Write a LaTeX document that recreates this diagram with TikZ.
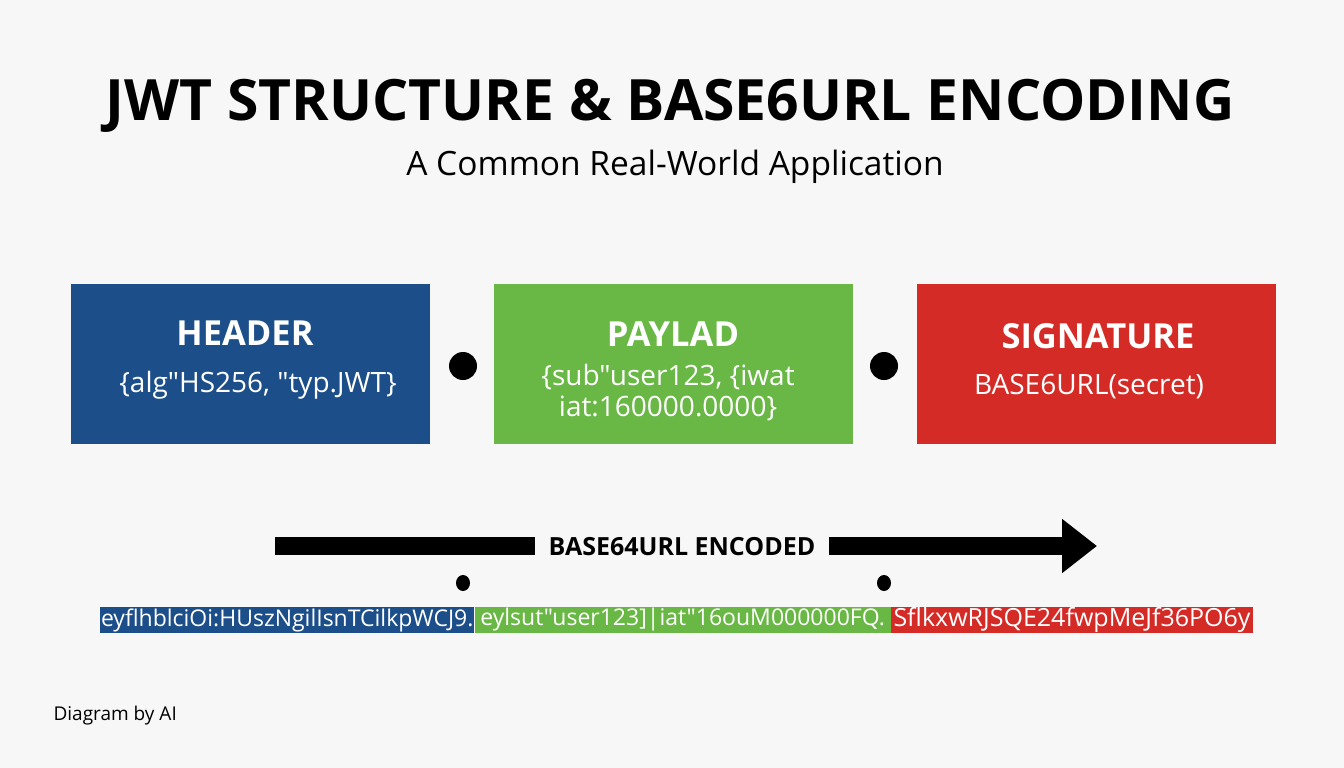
\documentclass[tikz,border=0pt]{standalone}
\usepackage{fontspec}
\setmainfont{Open Sans}[Ligatures=TeXOff]
\usetikzlibrary{positioning,arrows.meta,shapes.geometric}
\definecolor{bgc}{HTML}{F7F7F7}
\definecolor{hdrblue}{HTML}{1C4F8A}
\definecolor{plgreen}{HTML}{69B744}
\definecolor{sigred}{HTML}{D52B27}
\tikzset{
  part/.style   = {minimum width=359pt, minimum height=160pt, inner sep=0pt},
  ptitle/.style = {text=white, inner sep=0pt, font=\fontsize{34.5}{38}\selectfont\bfseries},
  pbody/.style  = {text=white, inner sep=0pt, align=center,
                   font=\fontsize{28}{31}\selectfont},
  bigdot/.style = {circle, fill=black, minimum size=28pt, inner sep=0pt},
  tinydot/.style= {ellipse, fill=black, minimum width=14pt, minimum height=16pt, inner sep=0pt},
  seg/.style    = {text=white, inner sep=0pt, minimum height=26pt,
                   font=\fontsize{23}{26}\selectfont},
  flow/.style   = {line width=18pt, -{Triangle[length=35pt,width=52pt]}},
}

\begin{document}
\begin{tikzpicture}[x=1pt, y=-1pt]
  \fill[bgc] (0,0) rectangle (1344,768);
  \useasboundingbox (0,0) rectangle (1344,768);
  % title
  \node[font=\fontsize{57}{62}\selectfont\bfseries] (title) at (670,106) {JWT STRUCTURE \& BASE6URL ENCODING};
  \node[font=\fontsize{33.5}{38}\selectfont] (subtitle) at (675,167) {A Common Real-World Application};
  % the three parts
  \node[part, fill=hdrblue] (header) at (250.5,364) {};
  \node[part, fill=plgreen] (payload) at (673.5,364) {};
  \node[part, fill=sigred] (signature) at (1096.5,364) {};
  \node[ptitle] (hdrtitle) at (245,333) {HEADER};
  \node[pbody] (hdrbody) at (258,385) {\{alg"HS256, "typ.JWT\}};
  \node[ptitle] (pltitle) at (673,334) {PAYLAD};
  \node[pbody] (plbody) at (668,393) {\{sub"user123, \{iwat\\iat:160000.0000\}};
  \node[ptitle] (sigtitle) at (1098,336) {SIGNATURE};
  \node[pbody] (sigbody) at (1089,387) {BASE6URL(secret)};
  \node[bigdot] (dot1) at (463,366) {};
  \node[bigdot] (dot2) at (884,366) {};
  % encoding arrow
  \coordinate (flowstart) at (275,546);
  \coordinate (flowend) at (1097,546);
  \draw[flow] (flowstart) -- (flowend);
  \node[fill=bgc, inner xsep=14pt, inner ysep=6pt, font=\fontsize{25}{28}\selectfont\bfseries] (enclabel) at (682,547) {BASE64URL ENCODED};
  \node[tinydot] (sep1) at (463,583) {};
  \node[tinydot] (sep2) at (884,583) {};
  % encoded token
  \node[seg, fill=hdrblue, anchor=west, minimum width=374pt] (enchdr) at (100,620) {eyflhblciOi:HUszNgilIsnTCilkpWCJ9.};
  \node[seg, fill=plgreen, right=0pt of enchdr, minimum width=416pt] (encpl) {eylsut"user123]|iat"16ouM000000FQ.};
  \node[seg, fill=sigred, right=0pt of encpl, minimum width=362pt, font=\fontsize{25}{28}\selectfont] (encsig) {SflkxwRJSQE24fwpMeJf36PO6y};
  \node[anchor=west, font=\fontsize{19}{22}\selectfont] (credit) at (50,716) {Diagram by AI};
\end{tikzpicture}
\end{document}
